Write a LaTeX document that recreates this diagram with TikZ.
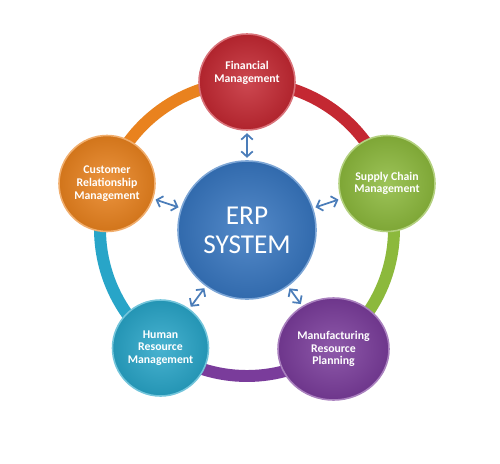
\documentclass[tikz,border=0pt]{standalone}
\usepackage{fontspec}
\setmainfont{Carlito}
\usetikzlibrary{arrows.meta,shapes.geometric}
\definecolor{finred}{RGB}{196,40,50}
\definecolor{supgreen}{RGB}{140,185,60}
\definecolor{manpurple}{RGB}{122,60,155}
\definecolor{humcyan}{RGB}{40,165,200}
\definecolor{crmorange}{RGB}{233,130,30}
\definecolor{erpblue}{RGB}{55,118,192}
\definecolor{linkblue}{RGB}{75,125,185}
\begin{document}
\begin{tikzpicture}[inner sep=0pt,outer sep=0pt,
ball/.style={circle,minimum size=1.92cm,draw=#1!65!white,line width=0.9pt,
  inner color=#1!85!white,outer color=#1!90!black,text=white,align=center,
  font=\bfseries\fontsize{6.7}{7.2}\selectfont},
ring/.style={line width=6.8pt},
link/.style={{Straight Barb[length=3pt,width=6.5pt]}-{Straight Barb[length=3pt,width=6.5pt]},
  line width=1pt,draw=linkblue,shorten <=1.8pt,shorten >=1.8pt}]
\useasboundingbox (0,0) rectangle (10,9.26);
\coordinate (ctr) at (4.94,4.68);
% ring between the modules
\draw[ring,crmorange] (ctr) ++(162:2.94) arc[start angle=162,end angle=90,radius=2.94];
\draw[ring,finred] (ctr) ++(90:2.94) arc[start angle=90,end angle=18,radius=2.94];
\draw[ring,supgreen] (ctr) ++(18:2.94) arc[start angle=18,end angle=-54,radius=2.94];
\draw[ring,manpurple] (ctr) ++(-54:2.94) arc[start angle=-54,end angle=-126,radius=2.94];
\draw[ring,humcyan] (ctr) ++(-126:2.94) arc[start angle=-126,end angle=-198,radius=2.94];
% modules
\draw (4.94,4.66) node[ball=erpblue,minimum size=2.76cm,font=\fontsize{15.5}{16.5}\selectfont] (erp) {ERP\\SYSTEM};
\draw (4.94,7.62) node[ball=finred] (fin) {Financial\\Management\\[4pt]};
\draw (7.74,5.59) node[ball=supgreen] (scm) {Supply Chain\\Management};
\draw (6.67,2.28) node[ball=manpurple,ellipse,minimum width=2.22cm,minimum height=2.04cm] (mrp) {Manufacturing\\Resource\\Planning};
\draw (3.21,2.30) node[ball=humcyan] (hrm) {Human\\Resource\\Management};
\draw (2.14,5.59) node[ball=crmorange] (crm) {Customer\\Relationship\\Management};
% links to the centre
\draw[link] (erp) -- (fin);
\draw[link] (erp) -- (scm);
\draw[link] (erp) -- (mrp);
\draw[link] (erp) -- (hrm);
\draw[link] (erp) -- (crm);
\end{tikzpicture}
\end{document}
